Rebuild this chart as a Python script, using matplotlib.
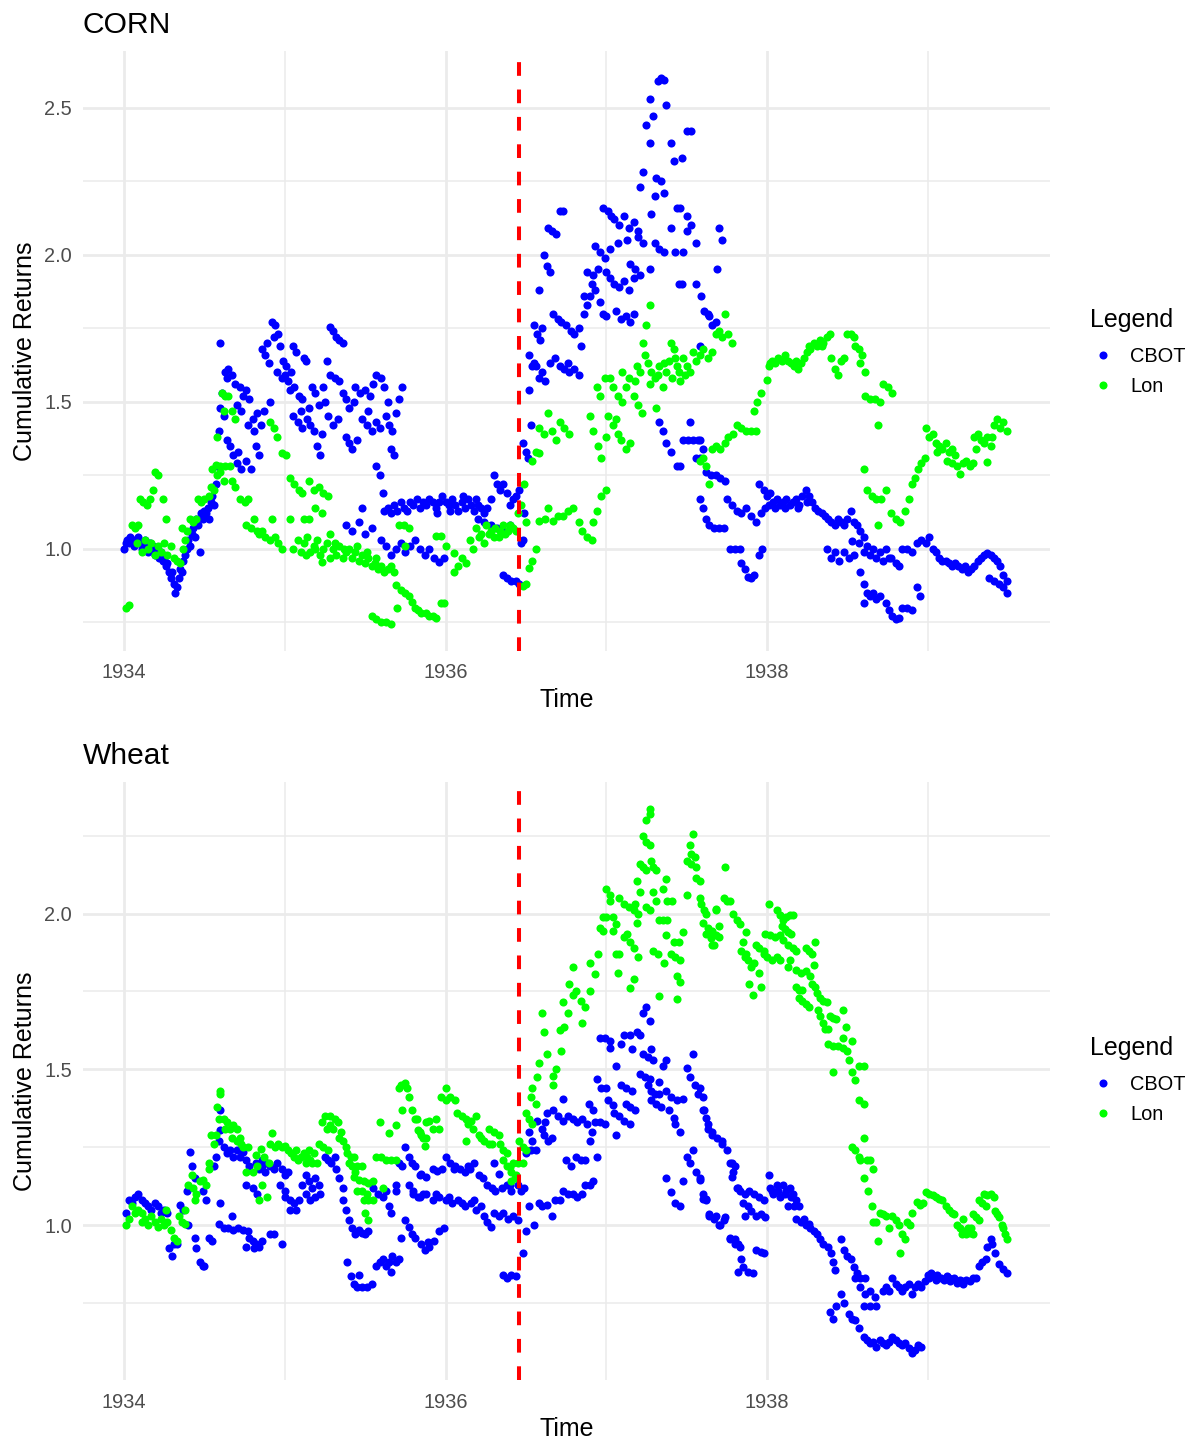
import matplotlib
matplotlib.use("Agg")
import matplotlib.pyplot as plt
from matplotlib.lines import Line2D
from matplotlib.ticker import FixedLocator, FormatStrFormatter

plt.rcParams['font.family'] = ['Liberation Sans', 'DejaVu Sans']

# values, (decimal year, cumulative return)
corn_cbot = [
    (1934.00, 1.00), (1934.01, 1.02), (1934.02, 1.03), (1934.03, 1.02), (1934.04, 1.04), (1934.05, 1.03),
    (1934.06, 1.01), (1934.07, 1.03), (1934.08, 1.02), (1934.09, 1.04), (1934.10, 1.02), (1934.11, 1.00),
    (1934.12, 1.02), (1934.13, 1.03), (1934.14, 1.01), (1934.15, 0.99), (1934.16, 1.02), (1934.17, 1.00),
    (1934.18, 1.01), (1934.19, 0.98), (1934.20, 1.00), (1934.21, 0.98), (1934.22, 0.97), (1934.23, 0.99),
    (1934.24, 0.96), (1934.25, 0.97), (1934.26, 0.94), (1934.27, 0.95), (1934.28, 0.92), (1934.29, 0.90),
    (1934.30, 0.92), (1934.31, 0.88), (1934.32, 0.85), (1934.33, 0.87), (1934.34, 0.90), (1934.35, 0.93),
    (1934.36, 0.92), (1934.37, 0.96), (1934.38, 0.98), (1934.39, 1.00), (1934.40, 1.03), (1934.41, 1.01),
    (1934.42, 1.05), (1934.43, 1.07), (1934.44, 1.04), (1934.45, 1.10), (1934.46, 1.08), (1934.47, 0.99),
    (1934.48, 1.12), (1934.49, 1.10), (1934.50, 1.13), (1934.51, 1.12), (1934.52, 1.14), (1934.53, 1.10),
    (1934.54, 1.16), (1934.55, 1.18), (1934.56, 1.15), (1934.57, 1.22), (1934.58, 1.28), (1934.59, 1.40),
    (1934.595, 1.48), (1934.60, 1.70),
    (1934.61, 1.53), (1934.62, 1.45), (1934.63, 1.60), (1934.65, 1.61), (1934.67, 1.59), (1934.64, 1.37),
    (1934.66, 1.35), (1934.68, 1.32), (1934.70, 1.29), (1934.71, 1.33), (1934.72, 1.55), (1934.74, 1.52),
    (1934.76, 1.54), (1934.78, 1.51), (1934.73, 1.27), (1934.76, 1.30), (1934.79, 1.27), (1934.82, 1.35),
    (1934.80, 1.44), (1934.83, 1.46), (1934.85, 1.42), (1934.86, 1.68), (1934.88, 1.66), (1934.90, 1.63),
    (1934.87, 1.47), (1934.91, 1.50), (1934.92, 1.77), (1934.94, 1.76), (1934.96, 1.73), (1934.95, 1.60),
    (1934.98, 1.58), (1935.00, 1.59), (1935.02, 1.57), (1935.03, 1.54), (1935.05, 1.69), (1935.07, 1.67),
    (1935.09, 1.52), (1935.11, 1.51), (1935.12, 1.65), (1935.13, 1.64), (1935.05, 1.45), (1935.08, 1.43),
    (1935.11, 1.41), (1935.14, 1.44), (1935.16, 1.42), (1935.18, 1.40), (1935.20, 1.35), (1935.22, 1.32),
    (1935.23, 1.39), (1935.17, 1.55), (1935.19, 1.53), (1935.21, 1.49), (1935.24, 1.55), (1935.26, 1.64),
    (1935.28, 1.755), (1935.30, 1.74), (1935.32, 1.72), (1935.34, 1.71), (1935.36, 1.70), (1935.28, 1.59),
    (1935.31, 1.58), (1935.34, 1.57), (1935.36, 1.53), (1935.38, 1.51), (1935.40, 1.48), (1935.38, 1.38),
    (1935.40, 1.36), (1935.42, 1.34), (1935.45, 1.37), (1935.44, 1.55), (1935.47, 1.53), (1935.50, 1.54),
    (1935.53, 1.52), (1935.55, 1.56), (1935.48, 1.44), (1935.51, 1.42), (1935.54, 1.40), (1935.57, 1.43),
    (1935.59, 1.41), (1935.57, 1.59), (1935.60, 1.58), (1935.62, 1.55), (1935.57, 1.28), (1935.59, 1.25),
    (1935.61, 1.19), (1935.63, 1.45), (1935.65, 1.42), (1935.67, 1.40), (1935.69, 1.46), (1935.71, 1.51),
    (1935.73, 1.55), (1935.66, 1.34), (1935.68, 1.32),
    (1934.64, 1.58), (1934.69, 1.56), (1934.70, 1.49), (1934.73, 1.47), (1934.77, 1.42), (1934.81, 1.40),
    (1934.84, 1.32), (1934.89, 1.70), (1934.93, 1.72), (1934.97, 1.69), (1934.99, 1.64), (1935.01, 1.62),
    (1935.04, 1.60), (1935.06, 1.55), (1935.10, 1.47), (1935.15, 1.48), (1935.25, 1.50), (1935.27, 1.45),
    (1935.30, 1.42), (1935.33, 1.44), (1935.43, 1.50), (1935.52, 1.47), (1935.64, 1.50),
    (1935.38, 1.08), (1935.42, 1.06), (1935.46, 1.09), (1935.50, 1.05), (1935.48, 1.14), (1935.54, 1.07),
    (1935.60, 1.03), (1935.63, 1.01), (1935.66, 0.98), (1935.69, 1.00), (1935.72, 1.02), (1935.75, 0.99),
    (1935.78, 1.01), (1935.81, 1.03), (1935.84, 1.00), (1935.87, 0.98), (1935.90, 1.00), (1935.93, 0.97),
    (1935.96, 0.955), (1935.99, 0.97),
    (1935.62, 1.13), (1935.64, 1.14), (1935.66, 1.12), (1935.68, 1.15), (1935.70, 1.13), (1935.72, 1.16),
    (1935.74, 1.14), (1935.76, 1.13), (1935.78, 1.16), (1935.80, 1.15), (1935.82, 1.17), (1935.84, 1.14),
    (1935.86, 1.16), (1935.88, 1.15), (1935.90, 1.17), (1935.92, 1.16), (1935.94, 1.14), (1935.96, 1.16),
    (1935.98, 1.18), (1936.00, 1.16), (1936.02, 1.15), (1936.04, 1.17), (1936.06, 1.15), (1936.08, 1.13),
    (1936.10, 1.16), (1936.12, 1.14), (1936.14, 1.17), (1936.16, 1.15), (1936.18, 1.13), (1936.20, 1.15),
    (1936.22, 1.14), (1936.24, 1.12), (1936.26, 1.14), (1936.28, 1.17), (1936.30, 1.25), (1936.32, 1.22),
    (1936.34, 1.20), (1936.36, 1.22), (1936.38, 1.19), (1936.40, 1.15), (1936.42, 1.17), (1936.44, 1.18),
    (1936.46, 1.20), (1936.20, 1.10), (1936.24, 1.09), (1936.28, 1.08), (1936.32, 1.07), (1936.36, 1.06),
    (1936.40, 1.08), (1935.95, 1.12), (1936.03, 1.13), (1936.11, 1.18), (1936.19, 1.17),
    (1936.36, 0.91), (1936.38, 0.90), (1936.41, 0.89), (1936.44, 0.89), (1936.46, 0.88),
    (1936.47, 1.02), (1936.48, 1.03), (1936.49, 1.12), (1936.48, 1.36), (1936.50, 1.33), (1936.51, 1.31),
    (1936.53, 1.42), (1936.52, 1.54), (1936.52, 1.66), (1936.54, 1.62), (1936.55, 1.76), (1936.57, 1.73),
    (1936.59, 1.71), (1936.58, 1.88), (1936.56, 1.62), (1936.58, 1.58), (1936.60, 1.60), (1936.62, 1.57),
    (1936.61, 2.00), (1936.63, 1.96), (1936.65, 1.94), (1936.64, 2.09), (1936.66, 2.08), (1936.69, 2.07),
    (1936.71, 2.15), (1936.73, 2.15), (1936.67, 1.80), (1936.70, 1.78), (1936.72, 1.77), (1936.75, 1.76),
    (1936.78, 1.74), (1936.80, 1.73), (1936.83, 1.75), (1936.68, 1.65), (1936.71, 1.62), (1936.74, 1.61),
    (1936.77, 1.60), (1936.80, 1.61), (1936.83, 1.59), (1936.84, 1.69), (1936.86, 1.80), (1936.88, 1.83),
    (1936.90, 1.86), (1936.93, 1.88), (1936.96, 1.84), (1936.98, 1.80), (1937.00, 1.79), (1936.88, 1.94),
    (1936.92, 1.93), (1936.95, 1.95), (1936.93, 2.03), (1936.96, 2.01), (1936.99, 1.99), (1937.02, 2.02),
    (1936.98, 2.16), (1937.01, 2.15), (1937.03, 2.13), (1937.02, 1.92), (1937.05, 1.90), (1937.08, 1.89),
    (1937.11, 1.91), (1937.14, 1.88), (1937.17, 1.92), (1937.05, 2.12), (1937.08, 2.10), (1937.11, 2.13),
    (1937.14, 2.09), (1937.17, 2.11), (1937.20, 2.08), (1937.06, 1.81), (1937.09, 1.78), (1937.12, 1.79),
    (1937.15, 1.77), (1937.17, 1.80), (1937.15, 1.97), (1937.18, 1.95), (1937.21, 1.93), (1937.20, 2.06),
    (1937.23, 2.04), (1937.21, 2.23), (1937.23, 2.28), (1937.25, 2.44), (1937.27, 2.53), (1937.29, 2.47),
    (1937.27, 2.38), (1937.32, 2.59), (1937.34, 2.60), (1937.36, 2.595), (1937.37, 2.51), (1937.31, 2.26),
    (1937.34, 2.25), (1937.36, 2.21), (1937.30, 2.20), (1937.28, 2.14), (1937.27, 1.95), (1937.30, 2.04),
    (1937.33, 2.02), (1937.36, 2.01), (1937.40, 2.38), (1937.42, 2.32), (1937.47, 2.33), (1937.50, 2.42),
    (1937.53, 2.42), (1937.44, 2.16), (1937.46, 2.16), (1937.40, 2.09), (1937.50, 2.13), (1937.53, 2.10),
    (1937.50, 2.08), (1937.48, 2.01), (1937.43, 2.01), (1937.56, 2.04), (1937.45, 1.90), (1937.47, 1.90),
    (1937.56, 1.90), (1937.59, 1.86), (1937.61, 1.81), (1937.64, 1.79), (1937.66, 1.76), (1937.58, 1.69),
    (1937.70, 2.09), (1937.72, 2.05), (1937.69, 1.95), (1937.63, 1.80), (1937.68, 1.77),
    (1936.55, 1.63), (1936.60, 1.75), (1936.65, 1.63), (1936.76, 1.63), (1936.86, 1.86), (1936.91, 1.90),
    (1937.00, 1.94), (1937.07, 2.04), (1937.13, 2.05),
    (1937.33, 1.43), (1937.35, 1.40), (1937.37, 1.36), (1937.40, 1.33), (1937.44, 1.28), (1937.46, 1.28),
    (1937.48, 1.37), (1937.51, 1.37), (1937.54, 1.37), (1937.57, 1.37), (1937.52, 1.43), (1937.56, 1.31),
    (1937.58, 1.31), (1937.62, 1.26), (1937.65, 1.25), (1937.68, 1.25), (1937.71, 1.24), (1937.74, 1.23),
    (1937.58, 1.17), (1937.60, 1.14), (1937.62, 1.10), (1937.64, 1.08), (1937.67, 1.07), (1937.70, 1.07),
    (1937.73, 1.07), (1937.75, 1.17), (1937.78, 1.15), (1937.81, 1.13), (1937.58, 1.37), (1937.60, 1.34),
    (1937.84, 1.12), (1937.77, 1.00), (1937.80, 1.00), (1937.83, 1.00), (1937.84, 0.95), (1937.86, 0.93),
    (1937.88, 0.905), (1937.90, 0.90), (1937.92, 0.91), (1937.95, 0.98), (1937.97, 1.00),
    (1937.87, 1.14), (1937.90, 1.11), (1937.93, 1.09), (1937.96, 1.12), (1937.99, 1.14), (1937.95, 1.22),
    (1937.98, 1.20), (1938.00, 1.18), (1938.02, 1.19), (1938.04, 1.16), (1938.06, 1.17), (1938.08, 1.15),
    (1938.10, 1.16), (1938.12, 1.17), (1938.14, 1.15), (1938.16, 1.16), (1938.18, 1.17), (1938.20, 1.15),
    (1938.22, 1.18), (1938.24, 1.20), (1938.26, 1.18), (1938.28, 1.16), (1938.30, 1.14), (1938.32, 1.13),
    (1938.34, 1.12), (1938.36, 1.11), (1938.38, 1.10), (1938.40, 1.09), (1938.42, 1.08), (1938.44, 1.10),
    (1938.46, 1.09), (1938.48, 1.08), (1938.50, 1.10), (1938.52, 1.13), (1938.54, 1.09), (1938.56, 1.08),
    (1938.58, 1.06), (1938.60, 1.04), (1938.53, 1.025), (1938.01, 1.15), (1938.05, 1.14), (1938.11, 1.14),
    (1938.19, 1.14), (1938.25, 1.16),
    (1938.37, 1.00), (1938.40, 0.97), (1938.42, 0.99), (1938.45, 0.96), (1938.48, 0.99), (1938.51, 0.97),
    (1938.54, 0.98), (1938.57, 1.02), (1938.60, 0.99), (1938.62, 1.01), (1938.64, 0.98), (1938.66, 1.00),
    (1938.68, 0.97), (1938.70, 0.99), (1938.72, 0.96), (1938.74, 1.00), (1938.76, 0.97),
    (1938.58, 0.92), (1938.60, 0.88), (1938.62, 0.85), (1938.64, 0.84), (1938.66, 0.85), (1938.68, 0.83),
    (1938.70, 0.84), (1938.60, 0.815), (1938.74, 0.815), (1938.76, 0.79), (1938.78, 0.77), (1938.80, 0.76),
    (1938.82, 0.765), (1938.84, 0.80), (1938.87, 0.80), (1938.90, 0.79), (1938.93, 0.87), (1938.95, 0.84),
    (1938.77, 0.97), (1938.80, 0.95), (1938.82, 0.94), (1938.84, 1.00), (1938.87, 1.00), (1938.90, 0.99),
    (1938.93, 1.02), (1938.96, 1.03), (1938.99, 1.02), (1939.01, 1.04), (1939.03, 1.00), (1939.05, 0.99),
    (1939.07, 0.97), (1939.09, 0.96), (1939.11, 0.96), (1939.13, 0.95), (1939.15, 0.94), (1939.17, 0.95),
    (1939.19, 0.94), (1939.21, 0.93), (1939.23, 0.94), (1939.25, 0.92), (1939.27, 0.93), (1939.29, 0.94),
    (1939.31, 0.96), (1939.33, 0.97), (1939.35, 0.98), (1939.37, 0.985), (1939.39, 0.98), (1939.41, 0.97),
    (1939.43, 0.96), (1939.45, 0.94), (1939.47, 0.91), (1939.49, 0.89), (1939.38, 0.90), (1939.41, 0.89),
    (1939.44, 0.88), (1939.47, 0.87), (1939.49, 0.85),
]

corn_lon = [
    (1934.01, 0.80), (1934.03, 0.81), (1934.05, 1.08), (1934.07, 1.07), (1934.09, 1.08), (1934.10, 1.17),
    (1934.12, 1.16), (1934.14, 1.15), (1934.16, 1.17), (1934.19, 1.26), (1934.21, 1.25), (1934.18, 1.20),
    (1934.24, 1.17), (1934.26, 1.10),
    (1934.08, 1.02), (1934.11, 0.99), (1934.13, 1.03), (1934.15, 1.00), (1934.17, 1.02), (1934.19, 0.98),
    (1934.21, 1.01), (1934.23, 0.99), (1934.25, 1.02), (1934.27, 0.98), (1934.29, 1.01), (1934.31, 0.97),
    (1934.33, 0.96), (1934.35, 0.95), (1934.37, 1.00), (1934.38, 1.03), (1934.36, 1.07), (1934.39, 1.06),
    (1934.41, 1.10), (1934.43, 1.09), (1934.45, 1.10), (1934.46, 1.17), (1934.48, 1.16), (1934.50, 1.17),
    (1934.53, 1.18), (1934.54, 1.21), (1934.56, 1.20), (1934.55, 1.27), (1934.58, 1.25), (1934.60, 1.26),
    (1934.57, 1.285), (1934.60, 1.28), (1934.63, 1.28), (1934.66, 1.28), (1934.58, 1.38), (1934.61, 1.53),
    (1934.63, 1.52), (1934.65, 1.52), (1934.62, 1.47), (1934.67, 1.47), (1934.69, 1.44), (1934.62, 1.23),
    (1934.67, 1.23), (1934.69, 1.21), (1934.72, 1.17), (1934.75, 1.16), (1934.77, 1.17),
    (1934.76, 1.08), (1934.79, 1.07), (1934.81, 1.10), (1934.83, 1.06), (1934.86, 1.06), (1934.84, 1.05),
    (1934.88, 1.04), (1934.91, 1.03), (1934.94, 1.04), (1934.96, 1.02), (1934.98, 1.00), (1934.92, 1.10),
    (1935.03, 1.10), (1934.91, 1.43), (1934.93, 1.41), (1934.95, 1.38), (1934.98, 1.325), (1935.01, 1.32),
    (1935.03, 1.24), (1935.06, 1.22), (1935.09, 1.20), (1935.11, 1.19), (1935.15, 1.23), (1935.18, 1.20),
    (1935.21, 1.21), (1935.24, 1.19), (1935.27, 1.18), (1935.19, 1.14), (1935.23, 1.12), (1935.12, 1.10),
    (1935.15, 1.10),
    (1935.05, 1.00), (1935.08, 1.03), (1935.10, 0.99), (1935.12, 1.02), (1935.14, 1.04), (1935.16, 0.99),
    (1935.18, 1.01), (1935.20, 1.03), (1935.22, 0.98), (1935.24, 1.00), (1935.26, 1.02), (1935.28, 1.05),
    (1935.28, 0.97), (1935.30, 1.00), (1935.32, 0.98), (1935.34, 1.01), (1935.36, 0.97), (1935.38, 0.99),
    (1935.40, 1.00), (1935.42, 0.97), (1935.44, 0.99), (1935.46, 0.96), (1935.48, 0.98), (1935.50, 0.95),
    (1935.52, 0.97), (1935.54, 0.94), (1935.56, 0.95), (1935.58, 0.93), (1935.60, 0.94), (1935.62, 0.92),
    (1935.64, 0.93), (1935.66, 0.94), (1935.68, 0.92), (1935.23, 0.955), (1935.13, 0.98), (1935.19, 1.00),
    (1935.31, 1.02), (1935.37, 1.00), (1935.45, 1.01), (1935.51, 0.99), (1935.57, 0.97),
    (1935.71, 1.08), (1935.74, 1.08), (1935.77, 1.07), (1935.75, 1.01),
    (1935.69, 0.877), (1935.72, 0.86), (1935.75, 0.85), (1935.77, 0.84), (1935.79, 0.82), (1935.81, 0.80),
    (1935.83, 0.79), (1935.85, 0.78), (1935.88, 0.78), (1935.90, 0.77), (1935.92, 0.77), (1935.94, 0.765),
    (1935.97, 0.815), (1935.99, 0.815),
    (1935.54, 0.77), (1935.57, 0.76), (1935.60, 0.75), (1935.63, 0.75), (1935.66, 0.745), (1935.70, 0.80),
    (1935.94, 1.045), (1935.97, 1.045), (1936.00, 1.01), (1936.05, 0.985), (1936.05, 0.92), (1936.13, 0.95),
    (1936.17, 1.00), (1936.10, 0.97), (1936.08, 0.94), (1936.15, 1.03),
    (1936.19, 1.07), (1936.22, 1.05), (1936.25, 1.08), (1936.28, 1.06), (1936.31, 1.07), (1936.34, 1.06),
    (1936.37, 1.05), (1936.40, 1.08), (1936.42, 1.07), (1936.24, 1.02), (1936.30, 1.04), (1936.36, 1.08),
    (1936.44, 1.06), (1936.21, 1.04), (1936.27, 1.05), (1936.33, 1.04), (1936.39, 1.06),
    (1936.45, 1.12), (1936.47, 1.15), (1936.49, 1.22), (1936.50, 1.09), (1936.48, 0.875), (1936.50, 0.88),
    (1936.52, 0.935), (1936.54, 0.96), (1936.56, 1.00), (1936.54, 1.30), (1936.56, 1.33), (1936.58, 1.325),
    (1936.58, 1.41), (1936.61, 1.39), (1936.64, 1.46), (1936.66, 1.40), (1936.69, 1.37), (1936.71, 1.43),
    (1936.74, 1.41), (1936.77, 1.39), (1936.58, 1.095), (1936.62, 1.10), (1936.67, 1.095), (1936.70, 1.11),
    (1936.73, 1.11), (1936.76, 1.13), (1936.79, 1.14), (1936.83, 1.09), (1936.64, 1.14), (1936.85, 1.06),
    (1936.88, 1.04), (1936.91, 1.03), (1936.92, 1.09), (1936.94, 1.13), (1936.97, 1.18), (1937.00, 1.20),
    (1936.90, 1.45), (1936.92, 1.40), (1936.95, 1.35), (1936.97, 1.31), (1937.00, 1.38), (1936.94, 1.55),
    (1936.96, 1.52), (1936.99, 1.58), (1937.02, 1.58), (1937.04, 1.55), (1937.07, 1.52), (1937.10, 1.50),
    (1937.01, 1.45), (1937.04, 1.42), (1937.07, 1.39), (1937.06, 1.44), (1937.09, 1.37), (1937.12, 1.34),
    (1937.15, 1.36), (1937.10, 1.60), (1937.14, 1.58), (1937.18, 1.57), (1937.17, 1.52), (1937.20, 1.49),
    (1937.22, 1.46), (1937.23, 1.70), (1937.25, 1.76), (1937.27, 1.83), (1937.24, 1.66), (1937.19, 1.62),
    (1937.21, 1.60), (1937.26, 1.63), (1937.28, 1.60), (1937.30, 1.58), (1937.31, 1.48), (1937.33, 1.62),
    (1937.35, 1.55), (1937.37, 1.60), (1937.39, 1.64), (1937.40, 1.70), (1937.42, 1.68), (1937.44, 1.62),
    (1937.46, 1.57), (1937.48, 1.65), (1937.50, 1.62), (1937.52, 1.60), (1937.54, 1.67), (1937.56, 1.64),
    (1937.58, 1.66), (1937.60, 1.68), (1937.63, 1.65), (1937.66, 1.67), (1937.68, 1.73), (1937.70, 1.74),
    (1937.72, 1.72), (1937.74, 1.80), (1937.76, 1.73), (1937.78, 1.70),
    (1937.12, 1.55), (1937.27, 1.56), (1937.32, 1.59), (1937.36, 1.63), (1937.41, 1.58), (1937.45, 1.60),
    (1937.49, 1.59), (1937.43, 1.65),
    (1937.58, 1.30), (1937.60, 1.31), (1937.62, 1.28), (1937.64, 1.22), (1937.66, 1.34), (1937.68, 1.35),
    (1937.71, 1.34), (1937.74, 1.36), (1937.76, 1.38), (1937.79, 1.39), (1937.81, 1.42), (1937.84, 1.41),
    (1937.87, 1.40), (1937.90, 1.40), (1937.93, 1.40),
    (1937.92, 1.47), (1937.94, 1.50), (1937.96, 1.53), (1938.00, 1.575), (1938.01, 1.62), (1938.03, 1.64),
    (1938.05, 1.63), (1938.07, 1.65), (1938.09, 1.64), (1938.11, 1.66), (1938.13, 1.64), (1938.15, 1.63),
    (1938.17, 1.62), (1938.19, 1.61), (1938.21, 1.63), (1938.23, 1.65), (1938.25, 1.67), (1938.27, 1.68),
    (1938.29, 1.70), (1938.31, 1.69), (1938.33, 1.71), (1938.35, 1.70), (1938.37, 1.72), (1938.39, 1.73),
    (1938.40, 1.65), (1938.42, 1.61), (1938.44, 1.59), (1938.46, 1.64), (1938.48, 1.65), (1938.50, 1.73),
    (1938.52, 1.73), (1938.54, 1.72), (1938.55, 1.69), (1938.57, 1.68), (1938.59, 1.66), (1938.58, 1.63),
    (1938.61, 1.60), (1938.61, 1.52), (1938.64, 1.51), (1938.67, 1.51), (1938.70, 1.50), (1938.72, 1.56),
    (1938.75, 1.55), (1938.78, 1.53), (1938.69, 1.42), (1938.60, 1.27), (1938.62, 1.20), (1938.65, 1.18),
    (1938.68, 1.17), (1938.71, 1.17), (1938.74, 1.20), (1938.69, 1.08), (1938.77, 1.12), (1938.80, 1.10),
    (1938.83, 1.09), (1938.86, 1.13), (1938.88, 1.17), (1938.90, 1.22), (1938.92, 1.24), (1938.94, 1.27),
    (1938.96, 1.29), (1938.98, 1.31), (1938.99, 1.41), (1939.01, 1.38), (1939.03, 1.39), (1939.05, 1.36),
    (1939.07, 1.35), (1939.09, 1.34), (1939.11, 1.36), (1939.13, 1.33), (1939.15, 1.34), (1939.12, 1.30),
    (1939.15, 1.29), (1939.18, 1.28), (1939.20, 1.255), (1939.22, 1.29), (1939.24, 1.30), (1939.26, 1.28),
    (1939.28, 1.29), (1939.29, 1.38), (1939.31, 1.39), (1939.33, 1.37), (1939.35, 1.36), (1939.37, 1.38),
    (1939.37, 1.295), (1939.39, 1.35), (1939.41, 1.42), (1939.43, 1.44), (1939.45, 1.41), (1939.47, 1.43),
    (1939.49, 1.40), (1938.02, 1.63), (1938.18, 1.64), (1938.26, 1.69), (1938.34, 1.69), (1939.06, 1.33),
    (1939.17, 1.32), (1939.30, 1.34), (1939.40, 1.38),
]

wheat_cbot = [
    (1934.01, 1.04), (1934.03, 1.08), (1934.05, 1.07), (1934.07, 1.09), (1934.09, 1.10), (1934.11, 1.08),
    (1934.13, 1.07), (1934.15, 1.06), (1934.17, 1.05), (1934.19, 1.07), (1934.21, 1.06), (1934.23, 1.04),
    (1934.25, 1.05), (1934.27, 1.04), (1934.28, 0.925), (1934.30, 0.90), (1934.31, 0.94), (1934.33, 0.94),
    (1934.35, 1.065), (1934.37, 1.05), (1934.39, 1.11), (1934.40, 1.00), (1934.41, 1.235), (1934.42, 1.19),
    (1934.44, 1.15), (1934.44, 0.96), (1934.45, 0.925), (1934.47, 0.88), (1934.49, 0.87), (1934.50, 0.87),
    (1934.49, 1.11), (1934.51, 1.08), (1934.53, 0.96), (1934.55, 0.95), (1934.56, 1.19), (1934.57, 1.22),
    (1934.59, 1.27), (1934.60, 1.37), (1934.60, 1.305), (1934.60, 1.07), (1934.59, 1.005), (1934.62, 1.25),
    (1934.64, 1.23), (1934.66, 1.24), (1934.68, 1.22), (1934.70, 1.24), (1934.72, 1.22), (1934.67, 1.03),
    (1934.62, 0.99), (1934.65, 0.99), (1934.68, 0.985), (1934.71, 0.99), (1934.74, 0.985), (1934.77, 0.98),
    (1934.74, 1.235), (1934.76, 1.21), (1934.78, 1.19), (1934.76, 1.13), (1934.76, 0.93), (1934.78, 0.96),
    (1934.80, 0.95), (1934.82, 0.94), (1934.84, 0.93), (1934.86, 0.95), (1934.81, 0.925), (1934.82, 1.20),
    (1934.84, 1.18), (1934.86, 1.19), (1934.88, 1.17), (1934.80, 1.12), (1934.83, 1.10), (1934.86, 1.21),
    (1934.89, 1.20), (1934.91, 1.19), (1934.93, 1.18), (1934.91, 0.97), (1934.93, 0.97), (1934.98, 0.94),
    (1934.95, 1.20), (1934.98, 1.18), (1935.00, 1.16), (1935.02, 1.17), (1934.97, 1.13), (1935.00, 1.11),
    (1935.00, 1.09), (1935.03, 1.08), (1935.06, 1.07), (1935.09, 1.08), (1935.03, 1.05), (1935.07, 1.05),
    (1935.11, 1.13), (1935.13, 1.16), (1935.15, 1.14), (1935.17, 1.12), (1935.19, 1.15), (1935.21, 1.13),
    (1935.13, 1.10), (1935.16, 1.08), (1935.19, 1.09), (1935.22, 1.10), (1935.25, 1.22), (1935.27, 1.21),
    (1935.29, 1.20), (1935.31, 1.22), (1935.32, 1.18), (1935.34, 1.15), (1935.36, 1.12), (1935.36, 1.08),
    (1935.38, 1.05), (1935.40, 1.015), (1935.42, 0.99), (1935.44, 0.97), (1935.46, 0.985), (1935.48, 0.975),
    (1935.50, 0.97), (1935.52, 0.98), (1935.39, 0.88), (1935.41, 0.835), (1935.43, 0.81), (1935.46, 0.84),
    (1935.45, 0.80), (1935.48, 0.80), (1935.51, 0.80), (1935.54, 0.81), (1935.57, 0.87), (1935.59, 0.88),
    (1935.61, 0.89), (1935.63, 0.87), (1935.65, 0.88), (1935.67, 0.90), (1935.69, 0.88), (1935.71, 0.89),
    (1935.66, 0.85), (1935.72, 0.96),
    (1935.55, 1.12), (1935.58, 1.10), (1935.61, 1.09), (1935.63, 1.11), (1935.65, 1.06), (1935.66, 1.04),
    (1935.69, 1.13), (1935.69, 1.11), (1935.71, 1.20), (1935.73, 1.19), (1935.75, 1.25), (1935.77, 1.22),
    (1935.79, 1.20), (1935.81, 1.19), (1935.77, 1.13), (1935.80, 1.11), (1935.83, 1.09), (1935.86, 1.10),
    (1935.85, 1.165), (1935.88, 1.155), (1935.75, 1.015), (1935.77, 0.995), (1935.79, 0.97), (1935.81, 0.96),
    (1935.85, 0.94), (1935.87, 0.92), (1935.89, 0.945),
    (1935.84, 1.16), (1935.92, 1.18), (1935.95, 1.175), (1935.98, 1.18), (1936.00, 1.22), (1936.03, 1.20),
    (1936.06, 1.19), (1936.09, 1.18), (1936.12, 1.17), (1936.15, 1.18), (1936.18, 1.20), (1936.21, 1.16),
    (1936.23, 1.15), (1936.26, 1.13), (1936.29, 1.12), (1936.31, 1.11), (1936.30, 1.20), (1936.33, 1.165),
    (1936.35, 1.12), (1936.38, 1.13), (1936.41, 1.11), (1936.40, 1.13),
    (1935.80, 1.10), (1935.84, 1.09), (1935.88, 1.10), (1935.92, 1.08), (1935.96, 1.09), (1936.00, 1.08),
    (1936.04, 1.07), (1936.08, 1.08), (1936.12, 1.06), (1936.16, 1.07), (1936.19, 1.05), (1936.22, 1.06),
    (1936.24, 1.03), (1936.26, 1.01), (1936.28, 0.995), (1936.30, 1.04), (1936.33, 1.03), (1936.36, 1.04),
    (1936.39, 1.02), (1936.42, 1.03), (1936.45, 1.015), (1935.94, 1.10), (1936.02, 1.09), (1936.10, 1.07),
    (1936.18, 1.08), (1936.05, 1.18), (1936.14, 1.19),
    (1935.90, 0.93), (1935.93, 0.95), (1935.96, 0.98), (1935.99, 0.99),
    (1936.36, 0.84), (1936.38, 0.83), (1936.41, 0.84), (1936.44, 0.835),
    (1936.45, 1.13), (1936.47, 1.11), (1936.49, 1.12), (1936.48, 0.91), (1936.50, 0.98), (1936.52, 1.06),
    (1936.55, 1.00), (1936.58, 1.07), (1936.60, 1.06), (1936.63, 1.065), (1936.66, 1.03), (1936.68, 1.08),
    (1936.71, 1.08), (1936.73, 1.11), (1936.76, 1.10), (1936.79, 1.10), (1936.82, 1.09), (1936.85, 1.10),
    (1936.87, 1.13), (1936.90, 1.13), (1936.92, 1.14),
    (1936.50, 1.23), (1936.53, 1.24), (1936.56, 1.24), (1936.52, 1.30), (1936.54, 1.27), (1936.57, 1.335),
    (1936.60, 1.31), (1936.62, 1.33), (1936.61, 1.29), (1936.64, 1.27), (1936.66, 1.28), (1936.63, 1.36),
    (1936.67, 1.37), (1936.70, 1.35), (1936.73, 1.335), (1936.73, 1.405), (1936.76, 1.35), (1936.79, 1.34),
    (1936.82, 1.33), (1936.85, 1.34), (1936.88, 1.325), (1936.75, 1.21), (1936.78, 1.19), (1936.81, 1.22),
    (1936.84, 1.21), (1936.87, 1.21), (1936.89, 1.39), (1936.92, 1.37), (1936.90, 1.27), (1936.91, 1.30),
    (1936.94, 1.22), (1936.93, 1.33), (1936.96, 1.33), (1936.99, 1.325), (1936.94, 1.47), (1936.97, 1.44),
    (1937.00, 1.44), (1937.01, 1.40), (1937.04, 1.385), (1937.05, 1.36), (1937.08, 1.35), (1937.11, 1.335),
    (1937.06, 1.29), (1937.09, 1.45), (1937.12, 1.44), (1937.16, 1.43), (1937.12, 1.39), (1937.15, 1.38),
    (1937.18, 1.37), (1937.15, 1.325), (1937.21, 1.485), (1937.24, 1.475), (1937.27, 1.47), (1937.26, 1.45),
    (1937.28, 1.43), (1937.28, 1.40), (1937.31, 1.39), (1937.34, 1.38), (1937.30, 1.42), (1937.33, 1.42),
    (1937.33, 1.46), (1937.23, 1.55), (1937.26, 1.54), (1937.29, 1.53), (1937.28, 1.565), (1937.35, 1.51),
    (1937.37, 1.53), (1936.96, 1.60), (1936.99, 1.60), (1937.02, 1.59), (1937.02, 1.57), (1937.06, 1.51),
    (1937.09, 1.58), (1937.11, 1.61), (1937.15, 1.61), (1937.19, 1.62), (1937.21, 1.61), (1937.16, 1.565),
    (1937.23, 1.68), (1937.25, 1.70), (1937.27, 1.655),
    (1937.37, 1.43), (1937.40, 1.41), (1937.44, 1.40), (1937.39, 1.37), (1937.42, 1.345), (1937.43, 1.325),
    (1937.46, 1.30), (1937.48, 1.405), (1937.50, 1.505), (1937.52, 1.475), (1937.54, 1.55), (1937.55, 1.45),
    (1937.57, 1.42), (1937.60, 1.37), (1937.62, 1.345), (1937.63, 1.325), (1937.66, 1.30), (1937.69, 1.28),
    (1937.72, 1.26), (1937.75, 1.24), (1937.77, 1.20), (1937.79, 1.17), (1937.82, 1.12),
    (1937.37, 1.15), (1937.40, 1.105), (1937.43, 1.07), (1937.46, 1.06), (1937.48, 1.14), (1937.50, 1.22),
    (1937.52, 1.20), (1937.54, 1.24), (1937.56, 1.17), (1937.58, 1.145), (1937.60, 1.085), (1937.62, 1.085),
    (1937.64, 1.03), (1937.67, 1.02), (1937.70, 1.00), (1937.73, 1.015), (1937.77, 0.96), (1937.80, 0.955),
    (1937.82, 0.94), (1937.82, 0.85),
    (1937.58, 1.44), (1937.60, 1.41), (1937.61, 1.37), (1937.63, 1.31), (1937.66, 1.29), (1937.72, 1.27),
    (1937.78, 1.20), (1937.80, 1.19), (1937.78, 1.155), (1937.81, 1.12), (1937.83, 1.11), (1937.86, 1.10),
    (1937.89, 1.11), (1937.92, 1.10), (1937.95, 1.09), (1937.98, 1.08), (1937.85, 1.07), (1937.88, 1.06),
    (1937.86, 1.03), (1937.90, 1.045), (1937.93, 1.03), (1937.96, 1.035), (1937.99, 1.025), (1938.01, 1.16),
    (1938.02, 1.12), (1938.04, 1.10), (1938.06, 1.13), (1938.08, 1.09), (1938.10, 1.13), (1938.12, 1.11),
    (1938.14, 1.12), (1938.16, 1.10), (1938.18, 1.08), (1938.13, 1.06), (1938.17, 1.06), (1938.20, 1.06),
    (1938.18, 1.02), (1938.21, 1.01), (1938.24, 1.00), (1938.27, 0.99), (1938.29, 0.98), (1938.31, 0.97),
    (1938.33, 0.955), (1938.35, 0.94), (1938.38, 0.93), (1938.40, 0.91), (1938.41, 0.88), (1938.42, 0.855),
    (1938.46, 0.955), (1938.48, 0.92), (1938.50, 0.90), (1938.52, 0.89), (1938.54, 0.865), (1938.56, 0.845),
    (1938.55, 0.83), (1938.58, 0.83), (1938.61, 0.83), (1938.58, 0.80), (1938.61, 0.78), (1938.64, 0.79),
    (1938.67, 0.77), (1938.60, 0.74), (1938.64, 0.74), (1938.68, 0.74), (1938.72, 0.79), (1938.74, 0.80),
    (1938.76, 0.79), (1938.78, 0.83), (1938.80, 0.81), (1938.82, 0.80), (1938.84, 0.79), (1938.86, 0.80),
    (1938.88, 0.81), (1938.90, 0.78), (1938.92, 0.80), (1938.94, 0.81), (1938.96, 0.80), (1938.98, 0.82),
    (1939.00, 0.84), (1939.02, 0.845), (1939.04, 0.835), (1939.06, 0.84), (1939.08, 0.83), (1939.10, 0.825),
    (1939.12, 0.835), (1939.14, 0.82), (1939.16, 0.83), (1939.18, 0.815), (1939.20, 0.825), (1939.22, 0.81),
    (1939.24, 0.825), (1939.26, 0.82), (1939.28, 0.83), (1939.30, 0.83), (1939.32, 0.87), (1939.34, 0.88),
    (1939.36, 0.89), (1939.37, 0.93), (1939.39, 0.955), (1939.40, 0.94), (1939.42, 0.91), (1939.44, 0.875),
    (1939.47, 0.86), (1939.49, 0.845), (1938.03, 1.11), (1938.07, 1.11), (1938.11, 1.10), (1938.15, 1.09),
    (1938.23, 1.02), (1938.26, 1.005), (1939.01, 0.83), (1939.05, 0.825), (1939.13, 0.83), (1939.21, 0.82),
    (1937.58, 1.15), (1937.60, 1.10), (1937.62, 1.08), (1937.64, 1.035), (1937.68, 1.03), (1937.71, 1.00),
    (1937.74, 1.025), (1937.77, 0.955), (1937.80, 0.94), (1937.83, 0.93), (1937.84, 0.89), (1937.85, 0.865),
    (1937.88, 0.85), (1937.91, 0.845), (1937.93, 0.92), (1937.96, 0.915), (1937.98, 0.91),
    (1938.39, 0.72), (1938.41, 0.70), (1938.43, 0.74), (1938.46, 0.78), (1938.48, 0.75), (1938.51, 0.715),
    (1938.53, 0.70), (1938.55, 0.695), (1938.57, 0.67), (1938.60, 0.64), (1938.62, 0.63), (1938.64, 0.62),
    (1938.66, 0.625), (1938.68, 0.61), (1938.70, 0.63), (1938.72, 0.62), (1938.74, 0.615), (1938.76, 0.625),
    (1938.78, 0.64), (1938.80, 0.63), (1938.82, 0.62), (1938.84, 0.615), (1938.86, 0.62), (1938.88, 0.605),
    (1938.90, 0.59), (1938.92, 0.60), (1938.94, 0.615), (1938.96, 0.61),
]

wheat_lon = [
    (1934.01, 1.00), (1934.03, 1.02), (1934.05, 1.06), (1934.07, 1.04), (1934.09, 1.05), (1934.11, 1.04),
    (1934.11, 1.01), (1934.13, 1.02), (1934.15, 1.00), (1934.17, 1.03), (1934.19, 1.01), (1934.21, 0.995),
    (1934.23, 1.02), (1934.25, 1.00), (1934.26, 1.05), (1934.27, 1.01), (1934.29, 0.985), (1934.31, 0.96),
    (1934.33, 0.95), (1934.34, 1.03), (1934.36, 1.01), (1934.38, 1.05), (1934.38, 1.005), (1934.40, 1.13),
    (1934.42, 1.16), (1934.43, 1.12), (1934.45, 1.10), (1934.44, 1.08), (1934.47, 1.14), (1934.49, 1.145),
    (1934.51, 1.13), (1934.53, 1.18), (1934.53, 1.20), (1934.54, 1.29), (1934.56, 1.26), (1934.57, 1.29),
    (1934.58, 1.38), (1934.60, 1.43), (1934.60, 1.42), (1934.59, 1.34), (1934.62, 1.34), (1934.64, 1.33),
    (1934.66, 1.31), (1934.68, 1.32), (1934.70, 1.31), (1934.67, 1.28), (1934.70, 1.27), (1934.73, 1.26),
    (1934.74, 1.25), (1934.77, 1.25), (1934.76, 1.17), (1934.80, 1.17), (1934.82, 1.225), (1934.85, 1.245),
    (1934.87, 1.22), (1934.83, 1.19), (1934.84, 1.08), (1934.86, 1.13), (1934.89, 1.09), (1934.90, 1.20),
    (1934.92, 1.295), (1934.91, 1.26), (1934.94, 1.25), (1934.96, 1.26), (1934.98, 1.25), (1935.00, 1.255),
    (1935.02, 1.24), (1935.04, 1.23), (1935.06, 1.22), (1935.08, 1.21), (1935.10, 1.22), (1935.12, 1.23),
    (1935.14, 1.22), (1935.16, 1.21), (1935.18, 1.23), (1935.13, 1.20), (1935.17, 1.20), (1935.20, 1.20),
    (1935.21, 1.26), (1935.24, 1.25), (1935.27, 1.24), (1935.23, 1.33), (1935.26, 1.31), (1935.28, 1.32),
    (1935.25, 1.35), (1935.28, 1.35), (1935.31, 1.34), (1935.33, 1.33), (1935.35, 1.30), (1935.36, 1.27),
    (1935.38, 1.25), (1935.39, 1.23), (1935.41, 1.22), (1935.43, 1.22), (1935.42, 1.19), (1935.45, 1.19),
    (1935.48, 1.19), (1935.43, 1.155), (1935.46, 1.145), (1935.49, 1.14), (1935.52, 1.135), (1935.55, 1.14),
    (1935.45, 1.11), (1935.48, 1.11), (1935.51, 1.10), (1935.49, 1.08), (1935.52, 1.08), (1935.55, 1.08),
    (1935.50, 1.04), (1935.52, 1.016), (1935.57, 1.22), (1935.60, 1.22), (1935.59, 1.33), (1935.63, 1.21),
    (1935.66, 1.21), (1935.69, 1.21), (1935.65, 1.295), (1935.61, 1.12), (1935.69, 1.32), (1935.73, 1.37),
    (1935.71, 1.44), (1935.75, 1.455), (1935.77, 1.41), (1935.79, 1.37), (1935.81, 1.34), (1935.83, 1.305),
    (1935.85, 1.29), (1935.88, 1.28), (1935.88, 1.33),
    (1934.63, 1.31), (1934.72, 1.28), (1935.07, 1.24), (1935.15, 1.24), (1935.30, 1.31), (1935.34, 1.28),
    (1935.40, 1.20), (1935.44, 1.17),
    (1935.72, 1.45), (1935.76, 1.44), (1935.82, 1.34), (1935.84, 1.30), (1935.86, 1.28), (1935.87, 1.255),
    (1935.90, 1.335), (1935.92, 1.31), (1935.94, 1.34), (1935.96, 1.31), (1935.97, 1.41), (1936.00, 1.40),
    (1936.00, 1.44), (1936.03, 1.41), (1936.06, 1.40), (1936.07, 1.36), (1936.10, 1.35), (1936.13, 1.34),
    (1936.16, 1.335), (1936.13, 1.27), (1936.14, 1.325), (1936.17, 1.31), (1936.19, 1.35), (1936.21, 1.29),
    (1936.22, 1.28), (1936.24, 1.27), (1936.27, 1.26), (1936.29, 1.26), (1936.27, 1.31), (1936.30, 1.30),
    (1936.33, 1.29), (1936.34, 1.26), (1936.36, 1.24), (1936.38, 1.23), (1936.36, 1.21), (1936.38, 1.19),
    (1936.40, 1.185), (1936.41, 1.17), (1936.43, 1.15), (1936.44, 1.16), (1936.41, 1.14), (1936.42, 1.20),
    (1936.45, 1.20), (1936.48, 1.20), (1936.46, 1.27), (1936.48, 1.25), (1936.50, 1.24), (1936.50, 1.36),
    (1936.52, 1.34), (1936.54, 1.325), (1936.53, 1.41), (1936.56, 1.39), (1936.54, 1.44), (1936.57, 1.475),
    (1936.58, 1.52), (1936.61, 1.62), (1936.60, 1.68), (1936.63, 1.55), (1936.67, 1.48), (1936.67, 1.45),
    (1936.69, 1.50), (1936.71, 1.625), (1936.74, 1.635), (1936.72, 1.56), (1936.73, 1.715), (1936.76, 1.68),
    (1936.77, 1.775), (1936.79, 1.74), (1936.79, 1.83), (1936.81, 1.75), (1936.84, 1.72), (1936.87, 1.70),
    (1936.85, 1.65), (1936.90, 1.75), (1936.90, 1.84), (1936.93, 1.805), (1936.95, 1.87), (1936.96, 1.955),
    (1936.98, 1.945), (1936.98, 1.99), (1937.00, 1.99), (1937.00, 2.08), (1937.02, 2.06), (1937.02, 2.04),
    (1937.04, 1.99), (1937.06, 1.965), (1937.04, 1.945), (1937.06, 1.87), (1937.08, 1.87), (1937.07, 1.81),
    (1937.08, 2.05), (1937.11, 2.03), (1937.14, 2.02), (1937.17, 2.01), (1937.11, 1.925), (1937.13, 1.935),
    (1937.15, 1.91), (1937.17, 1.89), (1937.15, 1.76), (1937.17, 1.79), (1937.18, 2.03), (1937.20, 2.00),
    (1937.19, 2.105), (1937.21, 2.07), (1937.19, 1.97), (1937.20, 1.86), (1937.21, 2.16), (1937.23, 2.15),
    (1937.25, 2.14), (1937.23, 2.25), (1937.25, 2.23), (1937.27, 2.22), (1937.25, 2.30), (1937.27, 2.335),
    (1937.275, 2.32), (1937.28, 2.17), (1937.29, 2.15), (1937.31, 2.14), (1937.25, 2.02), (1937.27, 2.01),
    (1937.29, 2.07), (1937.31, 2.04), (1937.33, 1.98), (1937.35, 2.08), (1937.37, 2.11), (1937.38, 2.04),
    (1937.41, 2.04), (1937.35, 1.98), (1937.38, 1.98), (1937.29, 1.88), (1937.32, 1.87), (1937.33, 1.735),
    (1937.37, 1.93), (1937.36, 1.84), (1937.40, 1.87), (1937.43, 1.86), (1937.46, 1.85), (1937.42, 1.91),
    (1937.45, 1.91), (1937.44, 1.80), (1937.46, 1.78), (1937.44, 1.725), (1937.48, 1.94), (1937.50, 2.06),
    (1937.50, 2.17), (1937.53, 2.16), (1937.56, 2.15), (1937.52, 2.22), (1937.54, 2.255), (1937.53, 2.19),
    (1937.55, 2.18), (1937.56, 2.115), (1937.58, 2.105), (1937.58, 2.05), (1937.59, 2.03), (1937.61, 2.01),
    (1937.62, 2.00), (1937.60, 1.97), (1937.63, 1.955), (1937.66, 1.945), (1937.64, 1.935), (1937.66, 1.90),
    (1937.68, 2.01), (1937.70, 1.96), (1937.74, 2.15), (1937.73, 2.05), (1937.75, 2.04), (1937.77, 2.04),
    (1937.79, 2.00), (1937.81, 1.98), (1937.83, 1.965),
    (1937.68, 1.93), (1937.70, 1.925), (1937.68, 2.016), (1937.62, 1.935), (1937.65, 1.92), (1937.67, 1.90),
    (1937.87, 1.94), (1937.85, 1.91), (1937.87, 1.87), (1937.84, 1.88), (1937.86, 1.86), (1937.88, 1.85),
    (1937.90, 1.83), (1937.92, 1.84), (1937.89, 1.775), (1937.91, 1.74), (1937.93, 1.90), (1937.95, 1.89),
    (1937.98, 1.88), (1937.95, 1.81), (1937.96, 1.765), (1937.98, 1.87), (1938.00, 1.86), (1938.03, 1.85),
    (1938.06, 1.86), (1938.08, 1.85), (1937.99, 1.935), (1938.02, 1.93), (1938.05, 1.925), (1938.08, 1.93),
    (1938.01, 2.03), (1938.06, 2.01), (1938.08, 1.995), (1938.10, 1.98), (1938.12, 1.99), (1938.14, 1.995),
    (1938.16, 1.995), (1938.09, 1.96), (1938.11, 1.95), (1938.13, 1.94), (1938.15, 1.935), (1938.10, 1.915),
    (1938.13, 1.90), (1938.16, 1.89), (1938.18, 1.88), (1938.14, 1.85), (1938.13, 1.83), (1938.18, 1.82),
    (1938.21, 1.81), (1938.24, 1.815), (1938.24, 1.89), (1938.26, 1.88), (1938.28, 1.87), (1938.30, 1.91),
    (1938.29, 1.835), (1938.27, 1.80), (1938.18, 1.765), (1938.20, 1.755), (1938.22, 1.755), (1938.20, 1.73),
    (1938.22, 1.72), (1938.24, 1.71), (1938.26, 1.70), (1938.28, 1.775), (1938.30, 1.765), (1938.31, 1.745),
    (1938.33, 1.73), (1938.35, 1.72), (1938.37, 1.715), (1938.32, 1.69), (1938.33, 1.67), (1938.35, 1.65),
    (1938.36, 1.63), (1938.38, 1.63), (1938.39, 1.67), (1938.41, 1.665), (1938.43, 1.66), (1938.47, 1.69),
    (1938.49, 1.635), (1938.38, 1.58), (1938.41, 1.575), (1938.44, 1.575), (1938.47, 1.57), (1938.41, 1.49),
    (1938.47, 1.60), (1938.50, 1.56), (1938.53, 1.59), (1938.51, 1.53), (1938.53, 1.49), (1938.55, 1.465),
    (1938.57, 1.51), (1938.60, 1.51), (1938.57, 1.40), (1938.60, 1.39), (1938.60, 1.28), (1938.53, 1.25),
    (1938.55, 1.24), (1938.57, 1.22), (1938.58, 1.21), (1938.62, 1.21), (1938.64, 1.21), (1938.66, 1.18),
    (1938.60, 1.15), (1938.63, 1.11), (1938.65, 1.06), (1938.66, 1.01), (1938.68, 1.01), (1938.69, 0.95),
    (1938.70, 1.04), (1938.72, 1.035), (1938.74, 1.03), (1938.76, 0.99), (1938.78, 1.03), (1938.80, 1.015),
    (1938.82, 1.00), (1938.84, 0.97), (1938.83, 0.91), (1938.855, 0.955), (1938.87, 1.01), (1938.89, 1.00),
    (1938.90, 1.04), (1938.93, 1.075), (1938.95, 1.065), (1938.97, 1.07), (1938.99, 1.105), (1939.01, 1.10),
    (1939.03, 1.095), (1939.05, 1.09), (1939.07, 1.085), (1939.09, 1.08), (1939.11, 1.06), (1939.13, 1.05),
    (1939.15, 1.04), (1939.16, 1.035), (1939.18, 1.00), (1939.20, 0.99), (1939.22, 0.98), (1939.21, 0.97),
    (1939.24, 0.97), (1939.26, 0.975), (1939.28, 0.97), (1939.22, 1.02), (1939.25, 0.99), (1939.27, 0.99),
    (1939.28, 1.035), (1939.30, 1.025), (1939.32, 1.015), (1939.32, 1.08), (1939.34, 1.07), (1939.36, 1.06),
    (1939.35, 1.10), (1939.37, 1.095), (1939.39, 1.10), (1939.41, 1.09), (1939.42, 1.045), (1939.43, 1.035),
    (1939.44, 1.025), (1939.46, 1.00), (1939.47, 0.99), (1939.48, 0.97), (1939.49, 0.955),
]

event_date = 1936.455
series_names = ["CBOT", "Lon"]
series_colors = {"CBOT": "#0000FF", "Lon": "#00FF00"}
x_major = [1934, 1936, 1938]
x_minor = [1935, 1937, 1939]

W, H = 1196, 1442
fig = plt.figure(figsize=(W / 100, H / 100), dpi=100)


def remove_boundaries(ax):
    for boundary in ["top", "bottom", "left", "right"]:
        ax.spines[boundary].set_visible(False)


def panel(rect, title, cbot, lon, y_major, y_minor, legend_top):
    ax = fig.add_axes(rect)
    for name, pts in zip(series_names, [cbot, lon]):
        t, v = zip(*pts)
        ax.scatter(t, v, s=34, color=series_colors[name], linewidths=0, zorder=2)
    ax.axvline(event_date, color="#FF0000", lw=2.9, dashes=(3.4, 3.4), zorder=3)

    allv = [p[1] for p in cbot + lon]
    lo, hi = min(allv), max(allv)
    pad = (hi - lo) * 0.05
    ax.set_ylim(lo - pad, hi + pad)
    ax.set_xlim(1933.745, 1939.76)

    ax.xaxis.set_major_locator(FixedLocator(x_major))
    ax.xaxis.set_minor_locator(FixedLocator(x_minor))
    ax.yaxis.set_major_locator(FixedLocator(y_major))
    ax.yaxis.set_minor_locator(FixedLocator(y_minor))
    ax.yaxis.set_major_formatter(FormatStrFormatter("%.1f"))
    ax.grid(which="major", color="#EBEBEB", lw=2.0, zorder=0)
    ax.grid(which="minor", color="#EBEBEB", lw=1.1, zorder=0)
    ax.set_axisbelow(True)
    ax.tick_params(which="both", length=0)
    ax.tick_params(axis="both", labelsize=14.4, labelcolor="#4D4D4D")
    ax.tick_params(axis="x", pad=9)
    ax.tick_params(axis="y", pad=8)
    remove_boundaries(ax)

    ax.set_title(title, loc="left", fontsize=21.6, pad=13)
    ax.set_xlabel("Time", fontsize=18, labelpad=4)
    ax.set_ylabel("Cumulative Returns", fontsize=18, labelpad=5)

    handles = [Line2D([], [], ls="", marker="o", ms=5.8, mew=0, color=series_colors[n]) for n in series_names]
    leg = ax.legend(handles, series_names, title="Legend", loc="upper left",
                    bbox_to_anchor=(1080 / W, 1 - legend_top / H), bbox_transform=fig.transFigure,
                    frameon=False, fontsize=14.4, title_fontsize=18, borderpad=0,
                    handlelength=1.3, handletextpad=0.7, labelspacing=0.52)
    leg._legend_box.align = "left"
    leg._legend_box.sep = 11
    return ax


panel([83 / W, 1 - 651 / H, 967 / W, 600 / H], "CORN", corn_cbot, corn_lon,
      [1.0, 1.5, 2.0, 2.5], [0.75, 1.25, 1.75, 2.25], 298)
panel([83 / W, 1 - 1380 / H, 967 / W, 598 / H], "Wheat", wheat_cbot, wheat_lon,
      [1.0, 1.5, 2.0], [0.75, 1.25, 1.75, 2.25], 1026)

fig.savefig("out.png", dpi=100)
